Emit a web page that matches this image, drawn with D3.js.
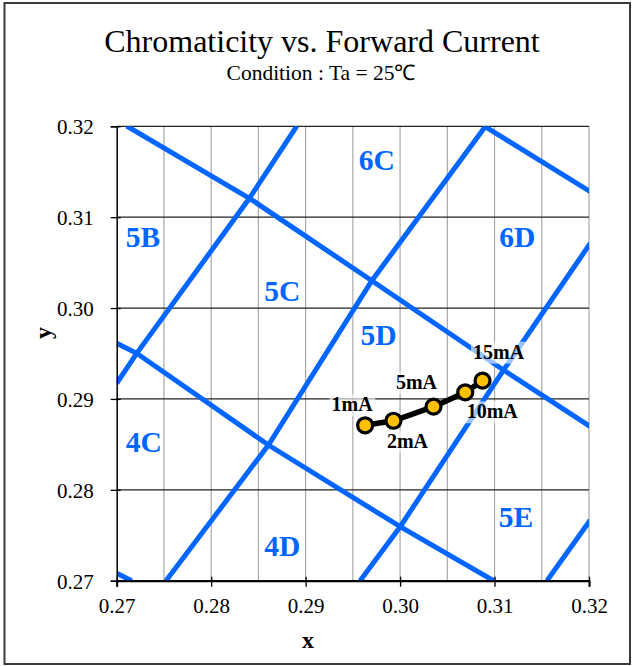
<!DOCTYPE html>
<html>
<head>
<meta charset="utf-8">
<script src="https://cdn.jsdelivr.net/npm/d3@7"></script>
<style>
  html, body { margin: 0; padding: 0; background: #fff; }
  svg { display: block; }
  text { font-family: "Liberation Serif", "Times New Roman", serif; }
</style>
</head>
<body>
<svg id="chart" width="634" height="666"></svg>
<script>
// ---------- data ----------
const xTicks = [0.27, 0.28, 0.29, 0.30, 0.31, 0.32];
const yTicks = [0.27, 0.28, 0.29, 0.30, 0.31, 0.32];
const xGrid = [0.275, 0.28, 0.285, 0.29, 0.295, 0.30, 0.305, 0.31, 0.315, 0.32];

// bin boundary lines (CIE x, y vertices)
const binLines = [
  [[0.27106, 0.32003], [0.28405, 0.31208], [0.29701, 0.30301], [0.31095, 0.29318], [0.32014, 0.28695]],
  [[0.27000, 0.29612], [0.27212, 0.29502], [0.28606, 0.28493], [0.30001, 0.27594], [0.30989, 0.27000]],
  [[0.30901, 0.31996], [0.32014, 0.31280]],
  [[0.27000, 0.27081], [0.27159, 0.27000]],
  [[0.27000, 0.29172], [0.27212, 0.29502], [0.28405, 0.31208], [0.28907, 0.32003]],
  [[0.27522, 0.27000], [0.28606, 0.28493], [0.29701, 0.30301], [0.30901, 0.31996]],
  [[0.29577, 0.27000], [0.30001, 0.27594], [0.31095, 0.29318], [0.32014, 0.30713]],
  [[0.31555, 0.27000], [0.32014, 0.27668]]
];

const binNames = ["6C", "5B", "5C", "6D", "5D", "4C", "4D", "5E"];
const binLabelX = [0.29754, 0.27277, 0.28753, 0.31240, 0.29771, 0.27286, 0.28753, 0.31228];
const binLabelY = [0.31519, 0.30669, 0.30081, 0.30669, 0.29594, 0.28413, 0.27272, 0.27594];

const currents = ["1mA", "2mA", "5mA", "10mA", "15mA"];
const cx = [0.2963, 0.2993, 0.30354, 0.30690, 0.30873];
const cy = [0.2871, 0.2876, 0.28915, 0.29073, 0.29201];

// ---------- layout ----------
(function () {
const serif = "'Liberation Serif', 'Times New Roman', serif";
const svg = d3.select("#chart");
const pL = 116.7, pR = 589, pT = 126.3, pB = 580.7;
const x = d3.scaleLinear().domain([0.27, 0.32]).range([pL, pR]);
const y = d3.scaleLinear().domain([0.27, 0.32]).range([pB, pT]);
const blue = "#0066ff";

// outer frame
svg.append("rect").attr("x", 4.5).attr("y", 3).attr("width", 625.5).attr("height", 661)
  .attr("fill", "#fff").attr("stroke", "#3a3a3a").attr("stroke-width", 2);

// title
svg.append("text").attr("x", 322).attr("y", 52).attr("text-anchor", "middle")
  .attr("font-size", 32).attr("fill", "#000").text("Chromaticity vs. Forward Current");
svg.append("text").attr("x", 321).attr("y", 80).attr("text-anchor", "middle")
  .attr("font-size", 21.5).attr("fill", "#000").text("Condition : Ta = 25℃");

// grid
const g = svg.append("g");
g.selectAll("line.vg").data(xGrid).join("line")
  .attr("x1", d => x(d)).attr("x2", d => x(d)).attr("y1", pT).attr("y2", pB)
  .attr("stroke", "#a8a8a8").attr("stroke-width", 1.2);
g.selectAll("line.hg").data(yTicks).join("line")
  .attr("x1", pL).attr("x2", pR).attr("y1", d => y(d)).attr("y2", d => y(d))
  .attr("stroke", "#222").attr("stroke-width", 1.2);

// clip
svg.append("clipPath").attr("id", "clip").append("rect")
  .attr("x", pL).attr("y", pT).attr("width", pR - pL).attr("height", pB - pT);

const line = d3.line().x(d => x(d[0])).y(d => y(d[1]));
svg.append("g").attr("clip-path", "url(#clip)")
  .selectAll("path").data(binLines).join("path")
  .attr("d", line).attr("fill", "none").attr("stroke", blue)
  .attr("stroke-width", 5).attr("stroke-linejoin", "miter");

// bin labels
svg.selectAll("text.bin").data(binNames).join("text")
  .attr("class", "bin")
  .attr("x", (d, i) => x(binLabelX[i])).attr("y", (d, i) => y(binLabelY[i]))
  .attr("text-anchor", "middle").attr("font-size", 29.5).attr("font-weight", "bold")
  .attr("fill", blue).text(d => d);

// axes
const yAxis = d3.axisLeft(y).tickValues(yTicks).tickFormat(d3.format(".2f")).tickSize(6);
const yg = svg.append("g").attr("transform", `translate(${pL},0)`).call(yAxis)
  .attr("font-family", serif).attr("font-size", 21);
yg.select(".domain").attr("stroke", "#000").attr("stroke-width", 1.5);
yg.selectAll(".tick line").attr("x1", 4).attr("x2", -6).attr("stroke", "#000").attr("stroke-width", 1.3);
yg.selectAll(".tick text").attr("x", -23).attr("dy", "0.35em").attr("fill", "#000");

const xAxis = d3.axisBottom(x).tickValues(xTicks).tickFormat(d3.format(".2f")).tickSize(6);
const xg = svg.append("g").attr("transform", `translate(0,${pB})`).call(xAxis)
  .attr("font-family", serif).attr("font-size", 21);
xg.select(".domain").attr("stroke", "#000").attr("stroke-width", 2);
xg.selectAll(".tick line").attr("y1", -4).attr("y2", 6).attr("stroke", "#000").attr("stroke-width", 1.3);
xg.selectAll(".tick text").attr("y", 17).attr("dy", "0.71em").attr("fill", "#000");

// axis titles
svg.append("text").attr("x", 308).attr("y", 648).attr("text-anchor", "middle")
  .attr("font-size", 24).attr("font-weight", "bold").text("x");
svg.append("text").attr("transform", "translate(51,333) rotate(-90)")
  .attr("text-anchor", "middle").attr("font-size", 24).attr("font-weight", "bold").text("y");

// series
const pts = currents.map((c, i) => [cx[i], cy[i]]);
svg.append("path").datum(pts).attr("d", line).attr("fill", "none")
  .attr("stroke", "#000").attr("stroke-width", 5.5);

// label positions relative to points (pixel offsets)
const labOff = [[-13, -14], [14, 27], [-17, -18], [27, 26], [16, -22]];
const lg = svg.append("g");
currents.forEach((c, i) => {
  const t = lg.append("text")
    .attr("x", x(cx[i]) + labOff[i][0]).attr("y", y(cy[i]) + labOff[i][1])
    .attr("text-anchor", "middle").attr("font-size", 20).attr("font-weight", "bold")
    .attr("fill", "#000").text(c);
  const bb = t.node().getBBox();
  lg.insert("rect", () => t.node())
    .attr("x", bb.x - 2).attr("y", bb.y + 1).attr("width", bb.width + 4).attr("height", bb.height)
    .attr("fill", "#fff").attr("fill-opacity", 0.6);
});

svg.append("g").selectAll("circle").data(pts).join("circle")
  .attr("cx", d => x(d[0])).attr("cy", d => y(d[1])).attr("r", 7.5)
  .attr("fill", "#ffc000").attr("stroke", "#000").attr("stroke-width", 3.2);
})();
</script>
</body>
</html>
